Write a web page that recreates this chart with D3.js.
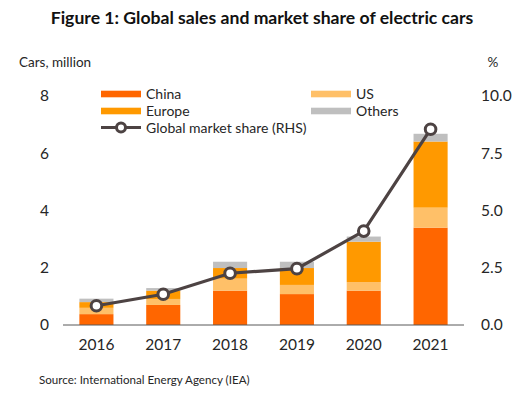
<!DOCTYPE html>
<html><head><meta charset="utf-8">
<script src="https://cdn.jsdelivr.net/npm/d3@7"></script>
<style>body{margin:0;background:#fff;} svg{display:block;font-family:Lato,"Open Sans",sans-serif;}</style>
</head><body>
<svg id="c" width="525" height="394"></svg>
<script>
const years = ["2016","2017","2018","2019","2020","2021"];
const china  = [0.38, 0.70, 1.20, 1.08, 1.20, 3.40];
const us     = [0.22, 0.21, 0.42, 0.32, 0.30, 0.70];
const europe = [0.20, 0.29, 0.37, 0.59, 1.41, 2.31];
const others = [0.12, 0.09, 0.22, 0.22, 0.18, 0.27];
const share  = [0.84, 1.34, 2.26, 2.46, 4.10, 8.55];
const leftTicks = [0, 2, 4, 6, 8];
const rightTicks = [0, 2.5, 5, 7.5, 10];
const seriesNames = ["China", "US", "Europe", "Others"];
const colors = {China:"#FF6600", US:"#FFC068", Europe:"#FF9900", Others:"#BFBFBF"};
const lineColor = "#4D4343";

const svg = d3.select("#c");
const x = d3.scaleBand().domain(years).range([63, 464]).paddingInner(0.49).paddingOuter(0.245);
const y = d3.scaleLinear().domain([0, 8]).range([325, 96]);
const y2 = d3.scaleLinear().domain([0, 10]).range([325, 96]);

const rows = years.map((yr, i) => ({year: yr, China: china[i], US: us[i], Europe: europe[i], Others: others[i]}));
const stack = d3.stack().keys(seriesNames)(rows);

svg.append("g").selectAll("g").data(stack).join("g")
  .attr("fill", d => colors[d.key])
  .selectAll("rect").data(d => d).join("rect")
  .attr("x", d => x(d.data.year))
  .attr("width", x.bandwidth())
  .attr("y", d => y(d[1]))
  .attr("height", d => y(d[0]) - y(d[1]));

// baseline
svg.append("line").attr("x1", 63).attr("x2", 464).attr("y1", y(0)).attr("y2", y(0))
  .attr("stroke", "#595959").attr("stroke-width", 1);

// axes
const axL = svg.append("g").attr("transform", "translate(49,0)")
  .call(d3.axisLeft(y).tickValues(leftTicks).tickSize(0).tickPadding(0).tickFormat(d3.format("d")));
const axR = svg.append("g").attr("transform", "translate(481,0)")
  .call(d3.axisRight(y2).tickValues(rightTicks).tickSize(0).tickPadding(0).tickFormat(d3.format(".1f")));
const axB = svg.append("g").attr("transform", "translate(0,325)")
  .call(d3.axisBottom(x).tickSize(0).tickPadding(14));
[axL, axR, axB].forEach(a => {
  a.select(".domain").remove();
  a.selectAll("text").attr("font-size", 15.5).attr("fill", "#262626").attr("font-family", "Lato");
});

// line
const line = d3.line().x((d, i) => x(years[i]) + x.bandwidth() / 2).y(d => y2(d));
svg.append("path").datum(share).attr("d", line).attr("fill", "none")
  .attr("stroke", lineColor).attr("stroke-width", 3.2);
svg.append("g").selectAll("circle").data(share).join("circle")
  .attr("cx", (d, i) => x(years[i]) + x.bandwidth() / 2).attr("cy", d => y2(d))
  .attr("r", 5.3).attr("fill", "#fff").attr("stroke", lineColor).attr("stroke-width", 3);

// titles
svg.append("text").attr("x", 262).attr("y", 24).attr("text-anchor", "middle")
  .attr("font-size", 17.6).attr("font-weight", 700).attr("fill", "#111")
  .text("Figure 1: Global sales and market share of electric cars");
svg.append("text").attr("x", 19).attr("y", 67).attr("font-size", 13.5).attr("fill", "#262626").text("Cars, million");
svg.append("text").attr("x", 493).attr("y", 67).attr("text-anchor", "middle").attr("font-size", 13.5).attr("fill", "#262626").text("%");
svg.append("text").attr("x", 39).attr("y", 384).attr("font-size", 11.6).attr("fill", "#262626").text("Source: International Energy Agency (IEA)");

// legend
const leg = [
  {name: "China", x: 101, y: 94},
  {name: "Europe", x: 101, y: 111},
  {name: "US", x: 311, y: 94},
  {name: "Others", x: 311, y: 111}
];
const lg = svg.append("g");
leg.forEach(l => {
  lg.append("rect").attr("x", l.x).attr("y", l.y - 3.3).attr("width", 40).attr("height", 6.6).attr("fill", colors[l.name]);
  lg.append("text").attr("x", l.x + 45).attr("y", l.y + 5).attr("font-size", 14).attr("fill", "#262626").text(l.name);
});
lg.append("line").attr("x1", 101).attr("x2", 141).attr("y1", 127.5).attr("y2", 127.5)
  .attr("stroke", lineColor).attr("stroke-width", 3.2);
lg.append("circle").attr("cx", 121).attr("cy", 127.5).attr("r", 4.5).attr("fill", "#fff")
  .attr("stroke", lineColor).attr("stroke-width", 3);
lg.append("text").attr("x", 146).attr("y", 132.5).attr("font-size", 14).attr("fill", "#262626").text("Global market share (RHS)");
</script>
</body></html>
